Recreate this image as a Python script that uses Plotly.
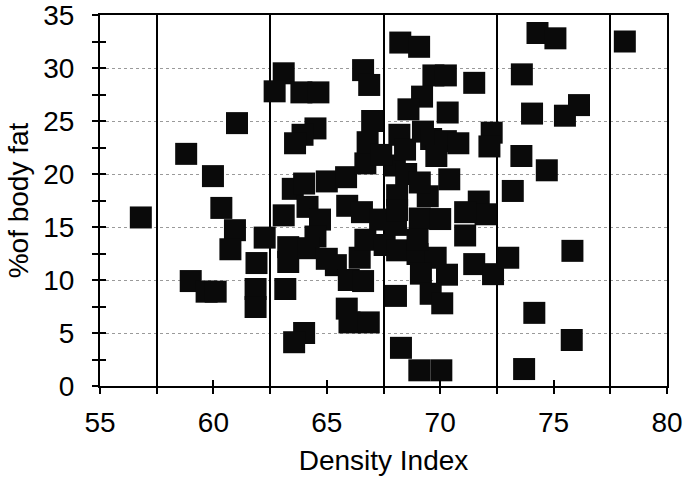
import plotly.graph_objects as go

density_index = [
    56.8, 58.8, 59.98, 60.35, 61.04, 60.95, 60.75, 62.26, 61.9, 61.86, 61.86, 59.0, 59.7, 60.1,
    63.17, 64.0, 63.56, 65.88, 66.0, 66.85,
    63.1, 62.7, 63.88, 64.63, 66.6, 66.87, 64.5, 63.93, 63.6,
    63.5, 64.0, 65.0, 65.85, 63.1, 64.15, 64.7, 65.9, 64.5, 63.3, 63.3, 64.2, 65.4, 65.0,
    65.97, 66.6, 66.45, 66.55, 66.7, 67.35,
    68.05, 67.55, 68.1, 68.1, 68.1, 69.45, 68.0, 68.5, 69.1, 66.7, 66.8, 67.0, 67.4, 68.2,
    68.45, 69.24, 69.6, 70.25, 70.8, 69.83, 70.4, 68.24, 69.07, 69.7, 70.25, 71.5, 69.2,
    68.6, 70.33, 72.27, 72.17, 71.7, 72.0, 71.1, 71.1, 69.0, 69.8, 69.15, 70.3, 71.5, 72.33,
    73.0, 68.05, 69.58, 70.09, 68.27, 69.08, 70.05, 69.1, 70.0, 69.0,
    73.2, 73.58, 74.7, 73.6, 74.05, 75.5, 76.12, 74.29, 75.08, 78.14, 75.83, 74.15, 75.8, 73.7,
]
body_fat_pct = [
    15.9, 21.9, 19.8, 16.8, 24.8, 14.7, 12.9, 14.0, 11.6, 9.15, 7.45, 9.9, 8.9, 8.9,
    9.15, 5.0, 4.13, 7.3, 6.0, 6.0,
    29.5, 27.8, 27.7, 27.7, 29.8, 28.4, 24.3, 23.7, 22.9,
    18.6, 19.1, 19.3, 19.7, 16.1, 16.9, 15.7, 17.0, 14.1, 13.1, 11.7, 13.0, 11.4, 12.0,
    10.0, 9.9, 12.1, 16.4, 13.8, 15.7,
    15.2, 13.3, 12.8, 18.0, 16.6, 17.9, 20.8, 20.0, 19.2, 21.0, 23.0, 25.0, 21.8, 23.7,
    22.3, 24.0, 23.3, 23.1, 22.9, 21.7, 19.5, 32.4, 32.0, 29.3, 29.3, 28.6, 27.3,
    26.1, 25.8, 23.9, 22.6, 17.4, 16.2, 16.4, 14.2, 12.45, 12.1, 10.6, 10.5, 11.5, 10.55,
    12.1, 8.5, 8.7, 7.8, 3.6, 1.48, 1.48, 15.8, 15.75, 13.8,
    18.4, 21.7, 20.35, 29.4, 25.7, 25.5, 26.5, 33.3, 32.8, 32.5, 12.75, 6.9, 4.34, 1.6,
]

x_range = [55, 80]
y_range = [0, 35]
x_labels = [55, 60, 65, 70, 75, 80]
y_labels = [0, 5, 10, 15, 20, 25, 30, 35]

FONT = "Arial, Liberation Sans, sans-serif"

fig = go.Figure()
fig.add_trace(go.Scatter(
    x=density_index, y=body_fat_pct, mode="markers",
    marker=dict(symbol="square", size=22, color="#0a0a0a", line=dict(width=0)),
    showlegend=False, hoverinfo="x+y",
))
# helper trace so overlay axes (inner half of crossing ticks, vertical rules) render
fig.add_trace(go.Scatter(x=[None], y=[None], xaxis="x2", yaxis="y2",
                         mode="markers", showlegend=False, hoverinfo="skip"))

fig.update_layout(
    width=687, height=477,
    margin=dict(l=100, r=20, t=15, b=91),
    paper_bgcolor="white", plot_bgcolor="white",
    font=dict(family=FONT, size=28, color="black"),
    xaxis=dict(
        range=x_range, tickvals=x_labels, ticktext=[str(v) for v in x_labels],
        ticks="outside", ticklen=6, tickwidth=1.5, tickcolor="black",
        ticklabelstandoff=4, ticklabeloverflow="allow",
        minor=dict(dtick=2.5, tick0=55, ticks="outside", ticklen=6, tickwidth=1.5,
                   tickcolor="black", showgrid=False),
        showgrid=False, zeroline=False, automargin=False,
        showline=True, linecolor="black", linewidth=2, mirror=True,
        title=dict(text="Density Index", standoff=14, font=dict(size=28)),
        tickfont=dict(size=28),
    ),
    yaxis=dict(
        range=y_range, tickvals=y_labels, ticktext=[str(v) for v in y_labels],
        ticks="outside", ticklen=6, tickwidth=1.5, tickcolor="black",
        ticklabelstandoff=12, ticklabeloverflow="allow",
        minor=dict(dtick=2.5, tick0=0, ticks="outside", ticklen=6, tickwidth=1.5,
                   tickcolor="black", showgrid=False),
        showgrid=True, gridcolor="#9a9a9a", gridwidth=1, griddash="dot",
        zeroline=False, automargin=False,
        showline=True, linecolor="black", linewidth=2, mirror=True,
        title=dict(text="%of body fat", standoff=6, font=dict(size=28)),
        tickfont=dict(size=28),
    ),
    xaxis2=dict(
        overlaying="x", anchor="y2", range=x_range,
        tick0=57.5, dtick=5, showticklabels=False,
        ticks="inside", ticklen=6, tickwidth=1.5, tickcolor="black",
        minor=dict(dtick=2.5, tick0=55, ticks="inside", ticklen=6, tickwidth=1.5,
                   tickcolor="black", showgrid=False),
        showgrid=True, gridcolor="black", gridwidth=2,
        zeroline=False, showline=False, automargin=False,
    ),
    yaxis2=dict(
        overlaying="y", anchor="x2", range=y_range,
        tick0=0, dtick=5, showticklabels=False,
        ticks="inside", ticklen=6, tickwidth=1.5, tickcolor="black",
        minor=dict(dtick=2.5, tick0=0, ticks="inside", ticklen=6, tickwidth=1.5,
                   tickcolor="black", showgrid=False),
        showgrid=False, zeroline=False, showline=False, automargin=False,
    ),
)

fig.write_html(
    "out.html",
    config={"displayModeBar": False},
    post_script="document.body.style.margin='0';document.body.style.padding='0';",
)
